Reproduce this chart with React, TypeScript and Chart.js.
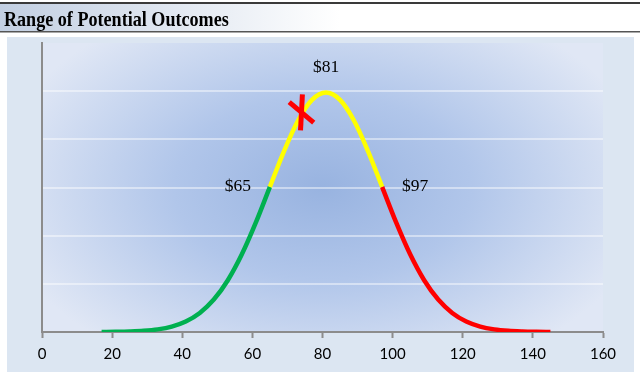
import React, { useEffect, useRef } from "react";
import { Chart, registerables } from "chart.js";

Chart.register(...registerables);

const titleText = "Range of Potential Outcomes";

const greenX = [17, 21, 25, 29, 33, 37, 41, 45, 49, 53, 57, 61, 65];
const greenY = [0.0, 0.004, 0.011, 0.025, 0.055, 0.113, 0.218, 0.396, 0.673, 1.075, 1.613, 2.275, 3.014];

const yellowX = [65, 69, 73, 77, 81, 85, 89, 93, 97];
const yellowY = [3.014, 3.752, 4.386, 4.818, 4.97, 4.818, 4.386, 3.752, 3.014];

const redX = [97, 101, 105, 109, 113, 117, 121, 125, 129, 133, 137, 141, 145];
const redY = [3.014, 2.275, 1.613, 1.075, 0.673, 0.396, 0.218, 0.113, 0.055, 0.025, 0.011, 0.004, 0.0];

const markerX = [65, 81, 97];
const markerY = [3.014, 4.97, 3.014];
const markerLabels = ["$65", "$81", "$97"];

const crossX = [74.0];
const crossY = [4.56];

const xMin = 0;
const xMax = 160;
const xStep = 20;
const yMin = 0;
const yMax = 6;
const yStep = 1;

const toPoints = (xs: number[], ys: number[]) => xs.map((x, i) => ({ x, y: ys[i] }));

const bgPlugin = {
  id: "bgPlugin",
  beforeDraw(chart: any) {
    const { ctx, chartArea } = chart;
    ctx.save();
    ctx.fillStyle = "#ffffff";
    ctx.fillRect(0, 0, chart.width, chart.height);

    // title bar
    const tg = ctx.createLinearGradient(0, 0, 340, 0);
    tg.addColorStop(0, "#c2cfe2");
    tg.addColorStop(1, "#ffffff");
    ctx.fillStyle = tg;
    ctx.fillRect(0, 4, 640, 27);
    ctx.fillStyle = "#3a3a3a";
    ctx.fillRect(0, 2, 640, 2);
    ctx.fillStyle = "#555555";
    ctx.fillRect(0, 31, 640, 1.5);
    ctx.save();
    ctx.fillStyle = "#000000";
    ctx.font = "bold 21px 'Liberation Serif', 'Times New Roman', serif";
    ctx.textBaseline = "alphabetic";
    ctx.textAlign = "left";
    ctx.translate(4, 26);
    ctx.scale(0.862, 1);
    ctx.fillText(titleText, 0, 0);
    ctx.restore();

    // outer box
    ctx.fillStyle = "#dce6f2";
    ctx.fillRect(7, 37, 627, 335);

    // plot area radial gradient
    const { left, top, right, bottom } = chartArea;
    const cx = (left + right) / 2;
    const cy = (top + bottom) / 2;
    ctx.beginPath();
    ctx.rect(left, top, right - left, bottom - top);
    ctx.clip();
    ctx.translate(cx, cy);
    ctx.scale(1, 0.62);
    const rg = ctx.createRadialGradient(0, 0, 0, 0, 0, 330);
    rg.addColorStop(0, "#98b3e0");
    rg.addColorStop(0.45, "#b1c6ea");
    rg.addColorStop(1, "#e0e7f5");
    ctx.fillStyle = rg;
    ctx.fillRect(-400, -400, 800, 800);
    ctx.restore();
  },
};

const labelPlugin = {
  id: "labelPlugin",
  afterDatasetsDraw(chart: any) {
    const { ctx, scales } = chart;
    const offsets = [
      [-32, 0],
      [0, -25],
      [33, 0],
    ];
    ctx.save();
    ctx.font = "17.5px 'Liberation Serif', 'Times New Roman', serif";
    ctx.fillStyle = "#000000";
    ctx.textAlign = "center";
    ctx.textBaseline = "middle";
    markerLabels.forEach((t, i) => {
      const px = scales.x.getPixelForValue(markerX[i]) + offsets[i][0];
      const py = scales.y.getPixelForValue(markerY[i]) + offsets[i][1];
      ctx.fillText(t, px, py);
    });
    ctx.restore();
  },
};

export default function App() {
  const ref = useRef<HTMLCanvasElement | null>(null);

  useEffect(() => {
    if (!ref.current) return;
    const lineCommon = {
      type: "line",
      pointRadius: 0,
      borderWidth: 4.5,
      tension: 0.4,
      cubicInterpolationMode: "monotone",
      fill: false,
    };
    const chart = new Chart(ref.current, {
      type: "line",
      data: {
        datasets: [
          {
            type: "scatter",
            data: toPoints(crossX, crossY),
            pointStyle: "line",
            rotation: 40,
            pointRadius: 16,
            borderWidth: 5,
            borderColor: "#ff0000",
            backgroundColor: "#ff0000",
            showLine: false,
          },
          {
            type: "scatter",
            data: toPoints(crossX, crossY),
            pointStyle: "line",
            rotation: 93,
            pointRadius: 18,
            borderWidth: 5,
            borderColor: "#ff0000",
            backgroundColor: "#ff0000",
            showLine: false,
          },
          { ...lineCommon, data: toPoints(yellowX, yellowY), borderColor: "#ffff00" },
          { ...lineCommon, data: toPoints(greenX, greenY), borderColor: "#00b050" },
          { ...lineCommon, data: toPoints(redX, redY), borderColor: "#ff0000" },
        ] as any,
      },
      options: {
        responsive: false,
        animation: false,
        events: [],
        layout: { padding: { left: 42, right: 37, top: 43, bottom: 7 } },
        plugins: { legend: { display: false }, tooltip: { enabled: false }, title: { display: false } },
        scales: {
          x: {
            type: "linear",
            min: xMin,
            max: xMax,
            ticks: {
              stepSize: xStep,
              color: "#000000",
              font: { family: "Lato, 'Noto Sans', sans-serif", size: 15 },
              padding: 7,
              maxRotation: 0,
            },
            grid: {
              drawOnChartArea: false,
              drawTicks: true,
              tickLength: 6,
              tickWidth: 2,
              tickColor: "#8c8c8c",
            },
            border: { display: true, color: "#8c8c8c", width: 2 },
          },
          y: {
            type: "linear",
            min: yMin,
            max: yMax,
            ticks: { stepSize: yStep, display: false },
            grid: {
              drawTicks: false,
              lineWidth: 2,
              color: (c: any) =>
                c.tick && (c.tick.value === yMin || c.tick.value === yMax)
                  ? "rgba(0,0,0,0)"
                  : "rgba(255,255,255,0.45)",
            },
            border: { display: true, color: "#8c8c8c", width: 2 },
          },
        },
      } as any,
      plugins: [bgPlugin, labelPlugin],
    });
    return () => chart.destroy();
  }, []);

  return (
    <div style={{ position: "absolute", left: 0, top: 0, width: 640, height: 377 }}>
      <canvas ref={ref} width={640} height={377} style={{ display: "block" }} />
    </div>
  );
}
